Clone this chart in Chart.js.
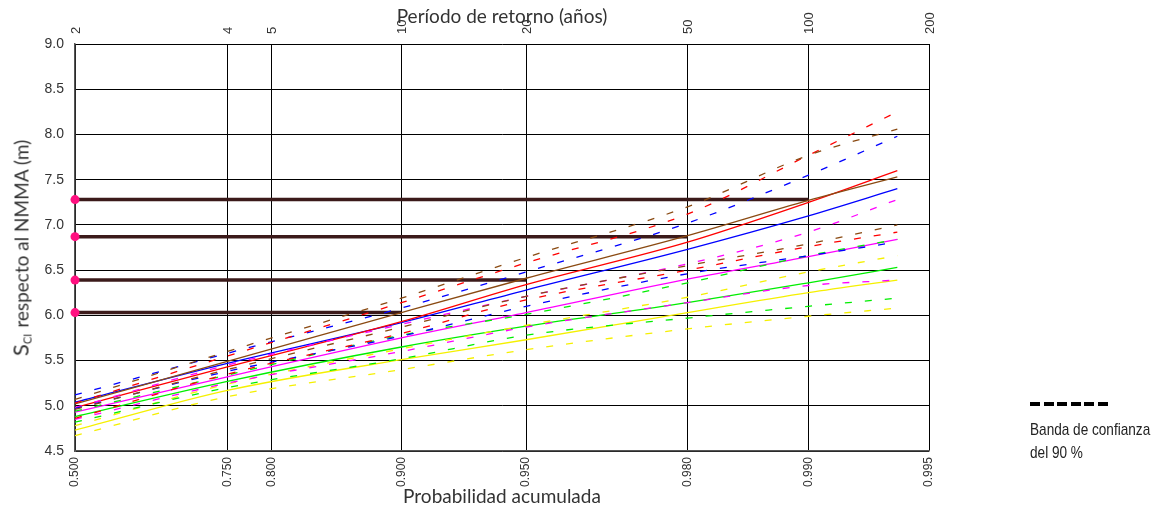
<!DOCTYPE html>
<html>
<head>
<meta charset="utf-8">
<script src="https://cdn.jsdelivr.net/npm/chart.js@4/dist/chart.umd.min.js"></script>
<style>
  body { margin: 0; background: #fff; }
  #wrap { position: relative; width: 1157px; height: 511px; }
  #ytitle {
    position: absolute; left: 20px; top: 248px;
    transform: translate(-50%, -50%) rotate(-90deg);
    white-space: nowrap; font-family: Lato, 'Noto Sans', sans-serif;
    font-size: 19px; color: #333;
  }
  #ytitle .s { font-size: 22px; }
  #ytitle sub { font-size: 11px; vertical-align: -3px; margin-right: 6px; }
  #legend { position: absolute; left: 1030px; top: 402px; white-space: nowrap;
    font-family: 'Liberation Sans', sans-serif; font-size: 17px; color: #222; line-height: 23px; }
  #legend .txt { transform: scaleX(0.8); transform-origin: 0 0; }
  #legend .dash { width: 78px; height: 4px; margin-bottom: 12px;
    background: repeating-linear-gradient(90deg, #000 0 10px, transparent 10px 13.6px); }
</style>
</head>
<body>
<div id="wrap">
  <canvas id="chart"></canvas>
  <div id="ytitle"><span class="s">S</span><sub>CI</sub>respecto al NMMA (m)</div>
  <div id="legend"><div class="dash"></div><div class="txt">Banda de confianza<br>del 90 %</div></div>
</div>
<script>
// probabilities where the curves were read
const probs = [0.5, 0.75, 0.9, 0.95, 0.98, 0.99, 0.994];

const brownMid = [5.02, 5.49, 6.03, 6.41, 6.88, 7.27, 7.53];
const brownUp  = [5.07, 5.60, 6.19, 6.64, 7.20, 7.77, 8.06];
const brownLow = [4.96, 5.40, 5.87, 6.21, 6.55, 6.79, 7.00];

const redMid = [4.98, 5.43, 5.93, 6.34, 6.81, 7.25, 7.60];
const redUp  = [5.03, 5.55, 6.14, 6.58, 7.12, 7.77, 8.25];
const redLow = [4.86, 5.35, 5.80, 6.17, 6.50, 6.76, 6.92];

const blueMid = [5.04, 5.47, 5.92, 6.28, 6.73, 7.10, 7.40];
const blueUp  = [5.12, 5.58, 6.08, 6.48, 7.02, 7.55, 7.98];
const blueLow = [4.97, 5.38, 5.77, 6.10, 6.46, 6.66, 6.81];

const magentaMid = [4.93, 5.32, 5.75, 6.03, 6.40, 6.65, 6.84];
const magentaUp  = [4.98, 5.45, 5.90, 6.21, 6.57, 6.92, 7.28];
const magentaLow = [4.85, 5.25, 5.60, 5.87, 6.14, 6.33, 6.39];

const greenMid = [4.88, 5.27, 5.65, 5.88, 6.14, 6.36, 6.53];
const greenUp  = [4.94, 5.34, 5.78, 6.01, 6.36, 6.66, 6.84];
const greenLow = [4.82, 5.20, 5.52, 5.78, 5.97, 6.10, 6.19];

const yellowMid = [4.73, 5.17, 5.51, 5.73, 6.03, 6.25, 6.39];
const yellowUp  = [4.78, 5.24, 5.63, 5.89, 6.20, 6.48, 6.66];
const yellowLow = [4.67, 5.10, 5.40, 5.62, 5.85, 5.99, 6.08];

// horizontal reference levels and where they stop
const refLevels = [6.03, 6.39, 6.87, 7.28];
const refEnds = [0.9, 0.95, 0.98, 0.99];

const xTickProbs = [0.5, 0.75, 0.8, 0.9, 0.95, 0.98, 0.99, 0.995];
const xTickLabels = ['0.500', '0.750', '0.800', '0.900', '0.950', '0.980', '0.990', '0.995'];
const periodTicks = [2, 4, 5, 10, 20, 50, 100, 200];

const gumbel = p => -Math.log(-Math.log(p));

// probability paper (Gumbel) axis
class GumbelScale extends Chart.Scale {
  determineDataLimits() {
    this.min = this.options.min;
    this.max = this.options.max;
  }
  buildTicks() {
    const vals = this.options.position === 'top' ? periodTicks.map(t => 1 - 1 / t) : xTickProbs;
    return vals.map(v => ({ value: v }));
  }
  getLabelForValue(v) { return String(v); }
  getPixelForValue(v) {
    const lo = gumbel(this.min), hi = gumbel(this.max);
    return this.getPixelForDecimal((gumbel(v) - lo) / (hi - lo));
  }
  getPixelForTick(i) { return this.getPixelForValue(this.ticks[i].value); }
  getValueForPixel(px) {
    const lo = gumbel(this.min), hi = gumbel(this.max);
    return Math.exp(-Math.exp(-(lo + this.getDecimalForPixel(px) * (hi - lo))));
  }
}
GumbelScale.id = 'gumbel';
GumbelScale.defaults = {};
Chart.register(GumbelScale);

const tickFont = 'Liberation Sans';

function curve(vals, color, dashed) {
  return {
    data: probs.map((p, i) => ({ x: p, y: vals[i] })),
    borderColor: color,
    borderWidth: 1.3,
    borderDash: dashed ? [7, 13] : [],
    pointRadius: 0,
    cubicInterpolationMode: 'monotone'
  };
}

const groups = [
  [brownUp, brownMid, brownLow, '#8a4a12'],
  [redUp, redMid, redLow, '#ff0000'],
  [blueUp, blueMid, blueLow, '#0000ff'],
  [magentaUp, magentaMid, magentaLow, '#ff00ff'],
  [greenUp, greenMid, greenLow, '#00ee00'],
  [yellowUp, yellowMid, yellowLow, '#f5f000']
];

const datasets = [];
groups.forEach(g => {
  datasets.push(curve(g[0], g[3], true));
  datasets.push(curve(g[2], g[3], true));
});
groups.forEach(g => datasets.push(curve(g[1], g[3], false)));

refLevels.forEach((lvl, i) => {
  datasets.push({
    data: [{ x: 0.5, y: lvl }, { x: refEnds[i], y: lvl }],
    borderColor: '#3b1a1a',
    borderWidth: 3.5,
    pointRadius: ctx => ctx.dataIndex === 0 ? 4.5 : 0,
    pointBackgroundColor: '#ff1080',
    pointBorderWidth: 0,
    clip: false
  });
});

new Chart(document.getElementById('chart'), {
  type: 'line',
  data: { datasets },
  options: {
    responsive: true,
    maintainAspectRatio: false,
    animation: false,
    layout: { padding: { left: 0, right: 228, top: 0, bottom: 0 } },
    plugins: { legend: { display: false }, tooltip: { enabled: false } },
    scales: {
      x: {
        type: 'gumbel', position: 'bottom', min: 0.5, max: 0.995,
        afterFit: s => { s.height = 60; },
        grid: { color: '#000', lineWidth: 1, drawTicks: false },
        border: { color: '#555', width: 1.5 },
        ticks: {
          autoSkip: false, minRotation: 90, maxRotation: 90, padding: 6,
          color: '#333', font: { family: tickFont, size: 12 },
          callback: (v, i) => xTickLabels[i]
        },
        title: { display: true, text: 'Probabilidad acumulada', color: '#333',
          font: { family: 'Lato', size: 19 }, padding: { top: 0, bottom: 3 } }
      },
      x2: {
        type: 'gumbel', position: 'top', min: 0.5, max: 0.995,
        afterFit: s => { s.height = 44; },
        grid: { display: false },
        border: { display: false },
        ticks: {
          autoSkip: false, minRotation: 90, maxRotation: 90, padding: 2, labelOffset: 17,
          color: '#333', font: { family: tickFont, size: 13 },
          callback: (v, i) => String(periodTicks[i])
        },
        title: { display: true, text: 'Período de retorno (años)', color: '#333',
          font: { family: 'Lato', size: 19 }, padding: { top: 5, bottom: 0 } }
      },
      y: {
        min: 4.5, max: 9.0,
        afterFit: s => { s.width = 75; },
        grid: { color: '#000', lineWidth: 1, drawTicks: false },
        border: { color: '#555', width: 1.5 },
        ticks: {
          stepSize: 0.5, padding: 11, color: '#333',
          font: { family: tickFont, size: 14 },
          callback: v => v.toFixed(1)
        }
      }
    }
  }
});
</script>
</body>
</html>
